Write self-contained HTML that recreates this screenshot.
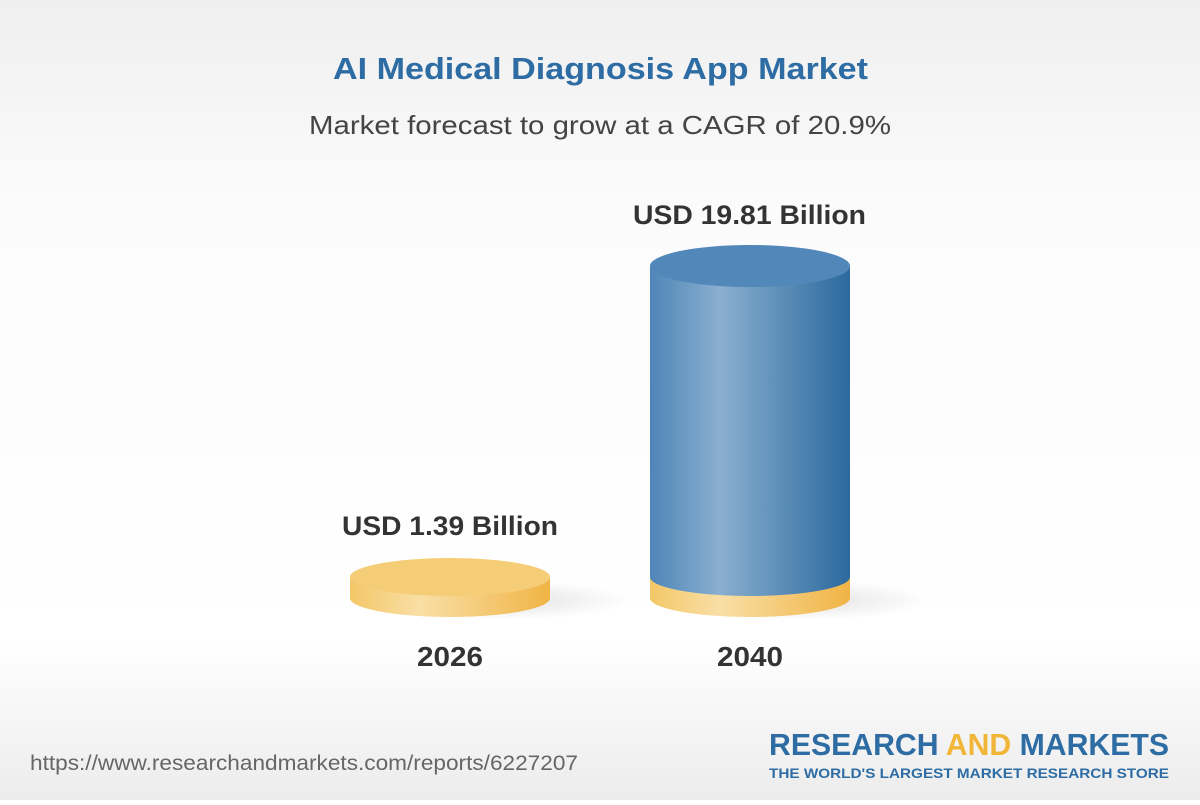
<!DOCTYPE html>
<html><head><meta charset="utf-8"><style>
html,body{margin:0;padding:0}
body{width:1200px;height:800px;overflow:hidden;font-family:"Liberation Sans",Arial,sans-serif}
</style></head><body>
<svg width="1200" height="800" viewBox="0 0 1200 800" xmlns="http://www.w3.org/2000/svg">
<defs>
<linearGradient id="bg" x1="0" y1="0" x2="0" y2="1">
<stop offset="0" stop-color="#efefef"/><stop offset="0.25" stop-color="#fbfbfb"/><stop offset="0.8" stop-color="#ffffff"/><stop offset="1" stop-color="#ececec"/>
</linearGradient>
<linearGradient id="gold" x1="0" y1="0" x2="1" y2="0">
<stop offset="0" stop-color="#f3c767"/><stop offset="0.35" stop-color="#f9dfa6"/><stop offset="1" stop-color="#f0b445"/>
</linearGradient>
<linearGradient id="blue" x1="0" y1="0" x2="1" y2="0">
<stop offset="0" stop-color="#4f86b8"/><stop offset="0.35" stop-color="#8aafcf"/><stop offset="1" stop-color="#2b699e"/>
</linearGradient>
<radialGradient id="sh" cx="0.5" cy="0.5" r="0.5">
<stop offset="0" stop-color="#000" stop-opacity="0.12"/><stop offset="1" stop-color="#000" stop-opacity="0"/>
</radialGradient>
</defs>
<rect width="1200" height="800" fill="url(#bg)"/>
<text x="333" y="79" font-size="31" font-weight="bold" fill="#2e6ca4" textLength="535" lengthAdjust="spacingAndGlyphs">AI Medical Diagnosis App Market</text>
<text x="309" y="134" font-size="26" fill="#444" textLength="582" lengthAdjust="spacingAndGlyphs">Market forecast to grow at a CAGR of 20.9%</text>

<ellipse cx="500" cy="600" rx="130" ry="20" fill="url(#sh)"/>
<ellipse cx="800" cy="600" rx="130" ry="20" fill="url(#sh)"/>

<path d="M350,577 L350,598 A100,19 0 0 0 550,598 L550,577 Z" fill="url(#gold)"/>
<ellipse cx="450" cy="577" rx="100" ry="19" fill="#f5cd77"/>
<text x="342" y="535" font-size="27" font-weight="bold" fill="#333" textLength="216" lengthAdjust="spacingAndGlyphs">USD 1.39 Billion</text>
<text x="417" y="666" font-size="28" font-weight="bold" fill="#333" textLength="66" lengthAdjust="spacingAndGlyphs">2026</text>

<path d="M650,577 L650,598 A100,19 0 0 0 850,598 L850,577 Z" fill="url(#gold)"/>
<path d="M650,266 L650,577 A100,19 0 0 0 850,577 L850,266 Z" fill="url(#blue)"/>
<ellipse cx="750" cy="266" rx="100" ry="21" fill="#5187b9"/>
<text x="633" y="224" font-size="27" font-weight="bold" fill="#333" textLength="233" lengthAdjust="spacingAndGlyphs">USD 19.81 Billion</text>
<text x="717" y="666" font-size="28" font-weight="bold" fill="#333" textLength="66" lengthAdjust="spacingAndGlyphs">2040</text>

<text x="30" y="770" font-size="21" fill="#666" textLength="548" lengthAdjust="spacingAndGlyphs">https://www.researchandmarkets.com/reports/6227207</text>
<text x="1169" y="755" text-anchor="end" font-size="31" font-weight="bold" fill="#2e6ca4" textLength="400" lengthAdjust="spacingAndGlyphs">RESEARCH <tspan fill="#f1b637">AND</tspan> MARKETS</text>
<text x="1169" y="778" text-anchor="end" font-size="14" font-weight="bold" fill="#2e6ca4" textLength="400" lengthAdjust="spacingAndGlyphs">THE WORLD'S LARGEST MARKET RESEARCH STORE</text>
</svg>
</body></html>
